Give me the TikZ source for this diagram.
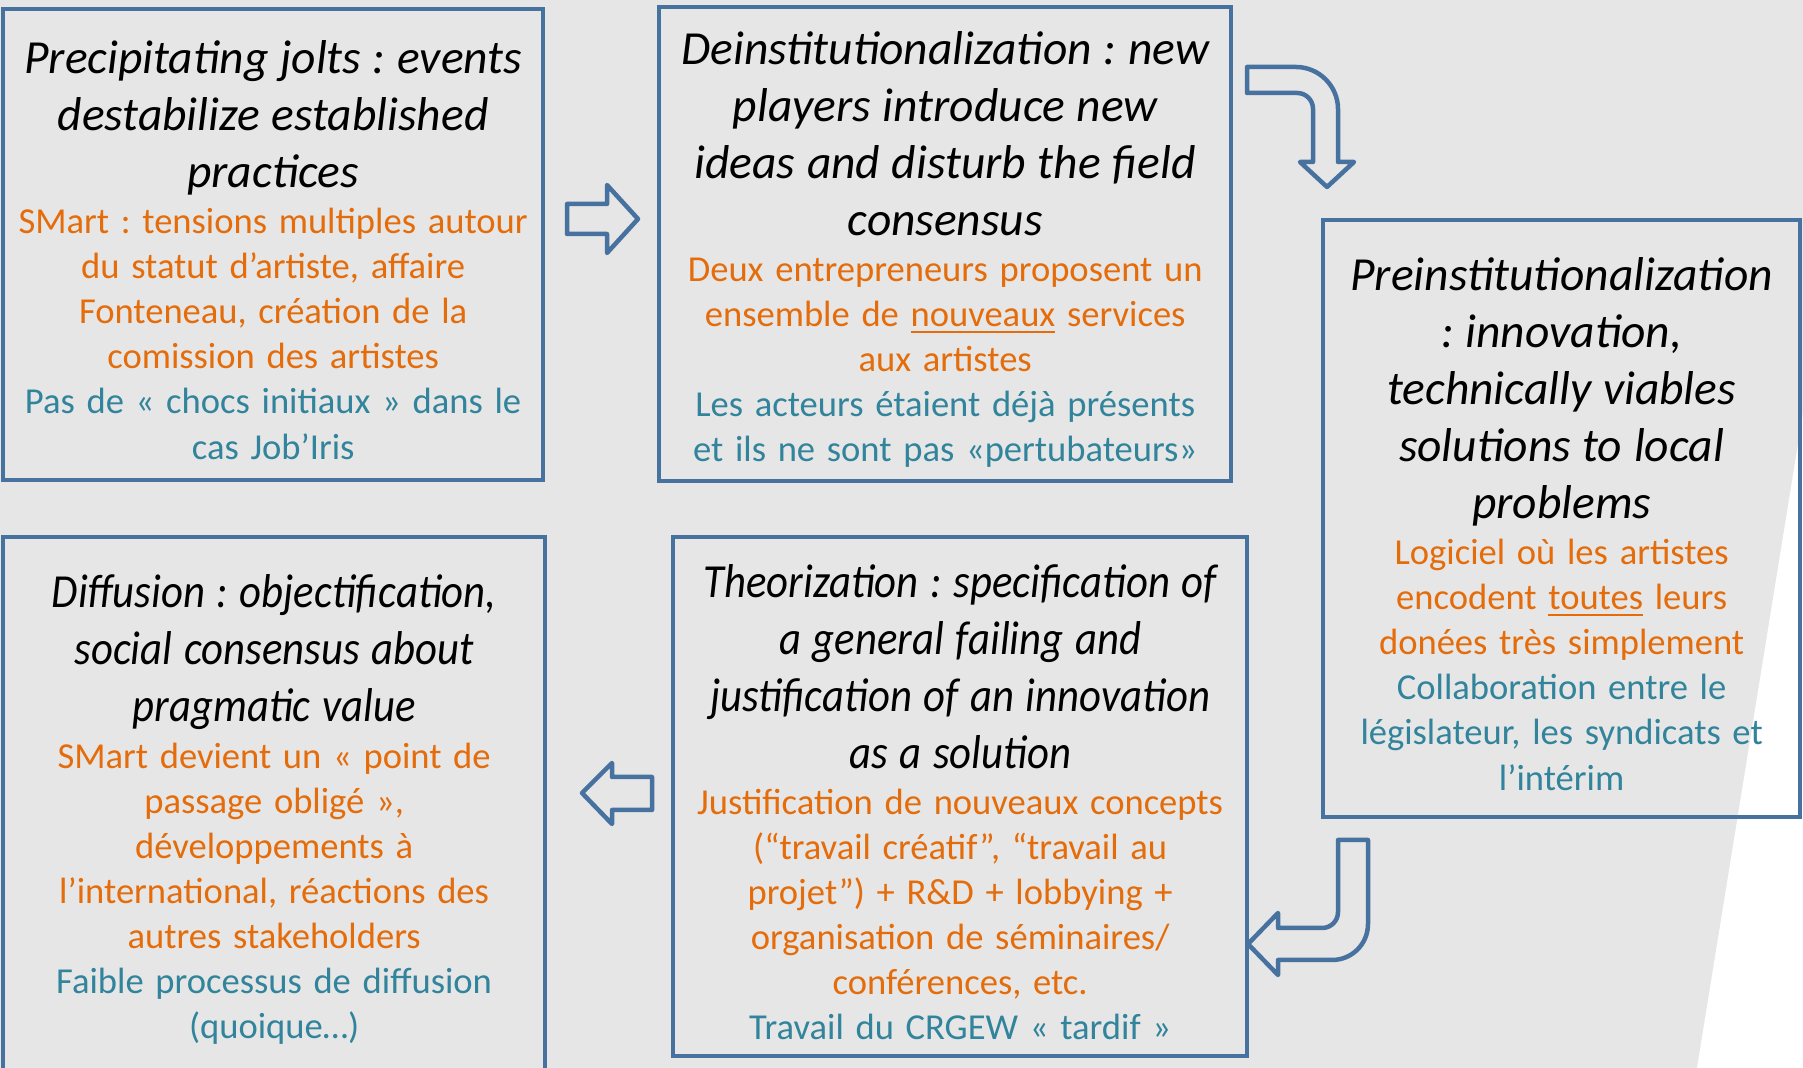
\documentclass[tikz,border=0pt]{standalone}
\usepackage{fontspec}
\setmainfont{Carlito}
\newfontfamily\gillish[FakeStretch=0.9]{Carlito}
\frenchspacing

\definecolor{bggray}{HTML}{E6E6E6}
\definecolor{frameblue}{RGB}{71,114,160}
\definecolor{orangetxt}{HTML}{E46C0A}
\definecolor{tealtxt}{HTML}{31849B}

\newcommand\ttlfont{\fontsize{13.5}{16.2}\selectfont\itshape}
\newcommand\bdyfont{\fontsize{10.4}{12.8}\selectfont}
\newcommand\topgap{\rule{0pt}{12.4pt}}

\tikzset{
  stage/.style={draw=frameblue, line width=0.04cm, anchor=north west,
    outer sep=0pt, inner sep=0pt, align=center},
  blockarrow/.style={draw=frameblue, line width=0.045cm, line join=round},
}

\begin{document}
\begin{tikzpicture}[x=0.01cm, y=-0.01cm]

    % background
    \fill[bggray] (0,0) rectangle (1803,1068);
    \fill[white] (1803,413) -- (1697,1068) -- (1803,1068) -- cycle;
    \useasboundingbox (0,0) rectangle (1803,1068);

    % stages
    \node[stage, minimum width=5.40cm, minimum height=4.71cm, text width=5.3cm] (jolts) at (3,9)
      {{\ttlfont\topgap Precipitating jolts : events\\ destabilize established\\ practices\par}\vspace{0.4pt}
       {\bdyfont\color{orangetxt} SMart : tensions multiples autour\\ du statut d’artiste, affaire\\
        Fonteneau, création de la\\ comission des artistes\par
        \color{tealtxt} Pas de « chocs initiaux » dans le\\ cas Job’Iris\par}};

    \node[stage, minimum width=5.72cm, minimum height=4.74cm, text width=5.6cm] (deinst) at (659,7)
      {{\ttlfont\topgap Deinstitutionalization : new\\ players introduce new\\ ideas and disturb the field\\ consensus\par}\vspace{0.4pt}
       {\bdyfont\color{orangetxt} Deux entrepreneurs proposent un\\ ensemble de \underline{nouveaux} services\\ aux artistes\par
        \color{tealtxt} Les acteurs étaient déjà présents\\ et ils ne sont pas «pertubateurs»\par}};

    \node[stage, minimum width=4.77cm, minimum height=5.97cm, text width=4.7cm] (preinst) at (1323,220)
      {{\ttlfont\topgap Preinstitutionalization\\ : innovation,\\ technically viables\\ solutions to local\\ problems\par}\vspace{0.4pt}
       {\bdyfont\color{orangetxt} Logiciel où les artistes\\ encodent \underline{toutes} leurs\\ donées très simplement\par
        \color{tealtxt} Collaboration entre le\\ législateur, les syndicats et\\ l’intérim\par}};

    \node[stage, minimum width=5.74cm, minimum height=5.19cm, text width=5.6cm] (theor) at (673,537)
      {{\gillish\ttlfont\topgap Theorization : specification of\\ a general failing and\\ justification of an innovation\\ as a solution\par}\vspace{0.4pt}
       {\bdyfont\color{orangetxt} Justification de nouveaux concepts\\ (“travail créatif”, “travail au\\
        projet”) + R\&D + lobbying +\\ organisation de séminaires/\\ conférences, etc.\par
        \color{tealtxt} Travail du CRGEW « tardif »\par}};

    \node[stage, minimum width=5.42cm, minimum height=5.34cm, text width=5.3cm] (diffusion) at (3,537)
      {{\gillish\ttlfont\topgap Diffusion : objectification,\\ social consensus about\\ pragmatic value\par}\vspace{0.4pt}
       {\bdyfont\color{orangetxt} SMart devient un « point de\\ passage obligé »,\\ développements à\\
        l’international, réactions des\\ autres stakeholders\par
        \color{tealtxt} Faible processus de diffusion\\ (quoique…)\par}};

    % arrows
    %% jolts -> deinst
    \draw[blockarrow] (567,204) -- (607,204) -- (607,185) -- (638,219) -- (607,253)
      -- (607,234) -- (567,234) -- cycle;
    %% deinst -> preinst
    \draw[blockarrow] (1247,67) -- (1296,67) .. controls (1319,67) and (1338,86) .. (1338,109)
      -- (1338,162) -- (1354,162) -- (1327,187) -- (1300,162) -- (1313,162) -- (1313,109)
      .. controls (1313,100) and (1306,93) .. (1297,93) -- (1247,93) -- cycle;
    %% preinst -> theor
    \draw[blockarrow] (1338,840) -- (1368,840) -- (1368,924) .. controls (1368,944) and (1352,960) .. (1332,960)
      -- (1278,960) -- (1278,975) -- (1248,944) -- (1278,913) -- (1278,928) -- (1322,928)
      .. controls (1331,928) and (1338,921) .. (1338,912) -- cycle;
    %% theor -> diffusion
    \draw[blockarrow] (652,777) -- (612,777) -- (612,763) -- (582,793) -- (612,824)
      -- (612,810) -- (652,810) -- cycle;

\end{tikzpicture}
\end{document}
